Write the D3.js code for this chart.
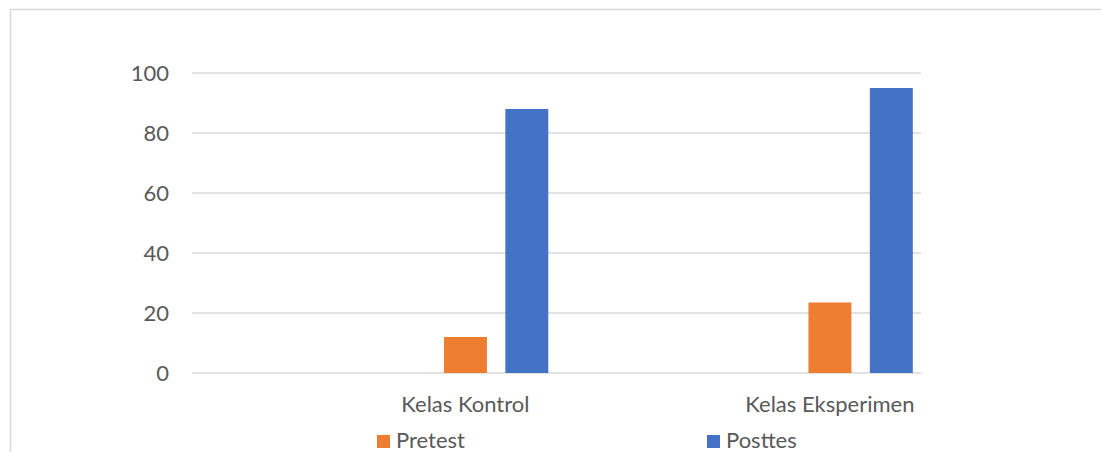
<!DOCTYPE html>
<html>
<head>
<meta charset="utf-8">
<script src="https://cdn.jsdelivr.net/npm/d3@7"></script>
<style>
  body { margin: 0; background: #fff; }
  text { font-family: Lato, "Liberation Sans", sans-serif; fill: #595959; }
</style>
</head>
<body>
<div id="app"></div>
<script>
var categories = ["Kelas Kontrol", "Kelas Eksperimen"]
var series = ["Pretest", "Posttes"]
var pretest = [12, 23.5]
var posttes = [88, 95]
var yTicks = [0, 20, 40, 60, 80, 100]
var colours = ["#ED7D31", "#4472C4"]

var W = 1101, H = 452
var fontSize = 22

var svg = d3.select("#app").append("svg")
  .attr("width", W).attr("height", H)

// chart border (runs off the right and bottom edge like the screenshot)
svg.append("rect")
  .attr("x", 10.5).attr("y", 9.5)
  .attr("width", W).attr("height", H)
  .attr("fill", "none").attr("stroke", "#d9d9d9").attr("stroke-width", 1.5)

var plot = {left: 192, right: 921, top: 73, bottom: 373}

var y = d3.scaleLinear().domain([0, 100]).range([plot.bottom, plot.top])
var x0 = d3.scaleBand().domain(categories).range([plot.left, plot.right])
var bw = x0.bandwidth()
// bars sit in the right part of each category, like in the source sheet
var x1 = d3.scaleBand().domain(series).range([bw * 0.666, bw + 1])
  .paddingInner(0.3).paddingOuter(0.15)

// gridlines
svg.append("g").selectAll("line").data(yTicks).enter().append("line")
  .attr("x1", plot.left).attr("x2", plot.right)
  .attr("y1", d => y(d)).attr("y2", d => y(d))
  .attr("stroke", "#d9d9d9").attr("stroke-width", 1.5)

// y tick labels
svg.append("g").selectAll("text").data(yTicks).enter().append("text")
  .attr("x", plot.left - 23).attr("y", d => y(d))
  .attr("dy", "0.36em")
  .attr("text-anchor", "end")
  .style("font-size", fontSize + "px")
  .text(d => d)

var rows = categories.map((c, i) => ({cat: c, values: [pretest[i], posttes[i]]}))

var groups = svg.append("g").selectAll("g").data(rows).enter().append("g")
  .attr("transform", d => "translate(" + x0(d.cat) + ",0)")

groups.selectAll("rect").data(d => d.values.map((v, j) => ({s: series[j], v: v, j: j})))
  .enter().append("rect")
  .attr("x", d => x1(d.s))
  .attr("width", x1.bandwidth())
  .attr("y", d => y(d.v))
  .attr("height", d => y(0) - y(d.v))
  .attr("fill", d => colours[d.j])

// category labels
svg.append("g").selectAll("text").data(categories).enter().append("text")
  .attr("x", d => x0(d) + bw * 0.75)
  .attr("y", 412)
  .attr("text-anchor", "middle")
  .style("font-size", fontSize + "px")
  .text(d => d)

// legend
var lx = d3.scalePoint().domain(series).range([377, 707])
var legend = svg.append("g").selectAll("g").data(series).enter().append("g")
  .attr("transform", d => "translate(" + lx(d) + ",435)")
legend.append("rect")
  .attr("width", 13).attr("height", 13)
  .attr("fill", (d, i) => colours[i])
legend.append("text")
  .attr("x", 19).attr("y", 13)
  .style("font-size", fontSize + "px")
  .text(d => d)
</script>
</body>
</html>
